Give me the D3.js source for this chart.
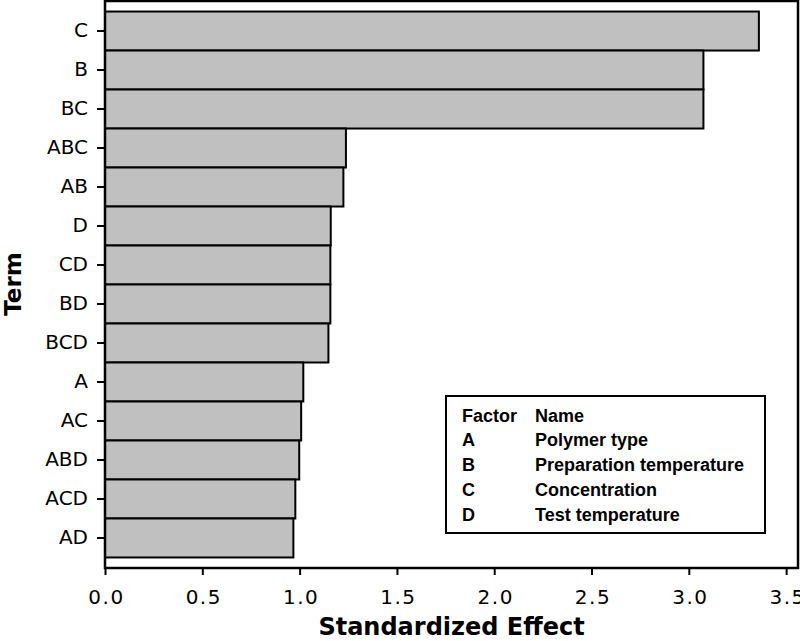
<!DOCTYPE html>
<html>
<head>
<meta charset="utf-8">
<script src="https://cdn.jsdelivr.net/npm/d3@7"></script>
<style>
    body { margin: 0; background: #fff; }
    .axis text { font-family: "DejaVu Sans", Verdana, sans-serif; font-size: 20px; fill: #000; }
    .axis path, .axis line { stroke: #000; stroke-width: 2px; }
    .axis-title { font-family: "DejaVu Sans", Verdana, sans-serif; font-weight: bold; fill: #000; }
    .legend text { font-family: "Liberation Sans", Arial, sans-serif; font-weight: bold; font-size: 18px; fill: #000; }
</style>
</head>
<body>
<div id="chart"></div>
<script>
/*
*    Pareto-style standardized effect bar chart
*/

var terms = ["C", "B", "BC", "ABC", "AB", "D", "CD", "BD", "BCD", "A", "AC", "ABD", "ACD", "AD"];
var effects = [3.36, 3.075, 3.075, 1.238, 1.225, 1.16, 1.158, 1.158, 1.148, 1.019, 1.008, 0.998, 0.978, 0.968];

var xTicks = [0, 0.5, 1.0, 1.5, 2.0, 2.5, 3.0, 3.5];

var legendFactors = ["A", "B", "C", "D"];
var legendNames = ["Polymer type", "Preparation temperature", "Concentration", "Test temperature"];

var data = terms.map(function (t, i) { return { term: t, value: effects[i] }; });

var margin = { left: 105, right: 2, top: 1, bottom: 73 };
var width = 800 - margin.left - margin.right;
var height = 641 - margin.top - margin.bottom;

var svg = d3.select("#chart")
    .append("svg")
    .attr("width", 800)
    .attr("height", 641);

var g = svg.append("g")
    .attr("transform", "translate(" + margin.left + "," + margin.top + ")");

var x = d3.scaleLinear()
    .domain([0, 3.561])
    .range([0, width]);

var y = d3.scaleBand()
    .domain(terms)
    .range([0, height])
    .paddingInner(0)
    .paddingOuter(0.27);

// bars
g.selectAll(".bar")
    .data(data)
    .enter()
    .append("rect")
    .attr("class", "bar")
    .attr("x", x(0))
    .attr("y", function (d) { return y(d.term); })
    .attr("width", function (d) { return x(d.value) - x(0); })
    .attr("height", y.bandwidth())
    .style("fill", "#c0c0c0")
    .style("stroke", "#000")
    .style("stroke-width", 2);

// frame
g.append("rect")
    .attr("x", 0)
    .attr("y", 0)
    .attr("width", width)
    .attr("height", height)
    .style("fill", "none")
    .style("stroke", "#000")
    .style("stroke-width", 2.5);

// x axis
var xAxis = g.append("g")
    .attr("class", "axis")
    .attr("transform", "translate(0," + height + ")")
    .call(d3.axisBottom(x)
        .tickValues(xTicks)
        .tickFormat(d3.format(".1f"))
        .tickSizeOuter(0)
        .tickSize(7)
        .tickPadding(15));
xAxis.select(".domain").remove();
xAxis.selectAll("text")
    .style("letter-spacing", "1.5px")
    .attr("dx", 1);

// y axis
var yAxis = g.append("g")
    .attr("class", "axis")
    .call(d3.axisLeft(y)
        .tickSizeOuter(0)
        .tickSize(8)
        .tickPadding(9));
yAxis.select(".domain").remove();

// axis titles
svg.append("text")
    .attr("class", "axis-title")
    .attr("x", margin.left + width / 2)
    .attr("y", 635)
    .attr("text-anchor", "middle")
    .style("font-size", "24px")
    .text("Standardized Effect");

svg.append("text")
    .attr("class", "axis-title")
    .attr("transform", "translate(20.5," + 284 + ") rotate(-90)")
    .attr("text-anchor", "middle")
    .style("font-size", "23px")
    .text("Term");

// legend box
var legend = svg.append("g").attr("class", "legend");

legend.append("rect")
    .attr("x", 446)
    .attr("y", 396)
    .attr("width", 319)
    .attr("height", 137)
    .style("fill", "#fff")
    .style("stroke", "#000")
    .style("stroke-width", 2);

var rowH = 24.8;
var rows = [["Factor", "Name"]].concat(legendFactors.map(function (f, i) { return [f, legendNames[i]]; }));

rows.forEach(function (r, i) {
    legend.append("text")
        .attr("x", 462)
        .attr("y", 421.5 + i * rowH)
        .text(r[0]);
    legend.append("text")
        .attr("x", 535)
        .attr("y", 421.5 + i * rowH)
        .text(r[1]);
});
</script>
</body>
</html>
